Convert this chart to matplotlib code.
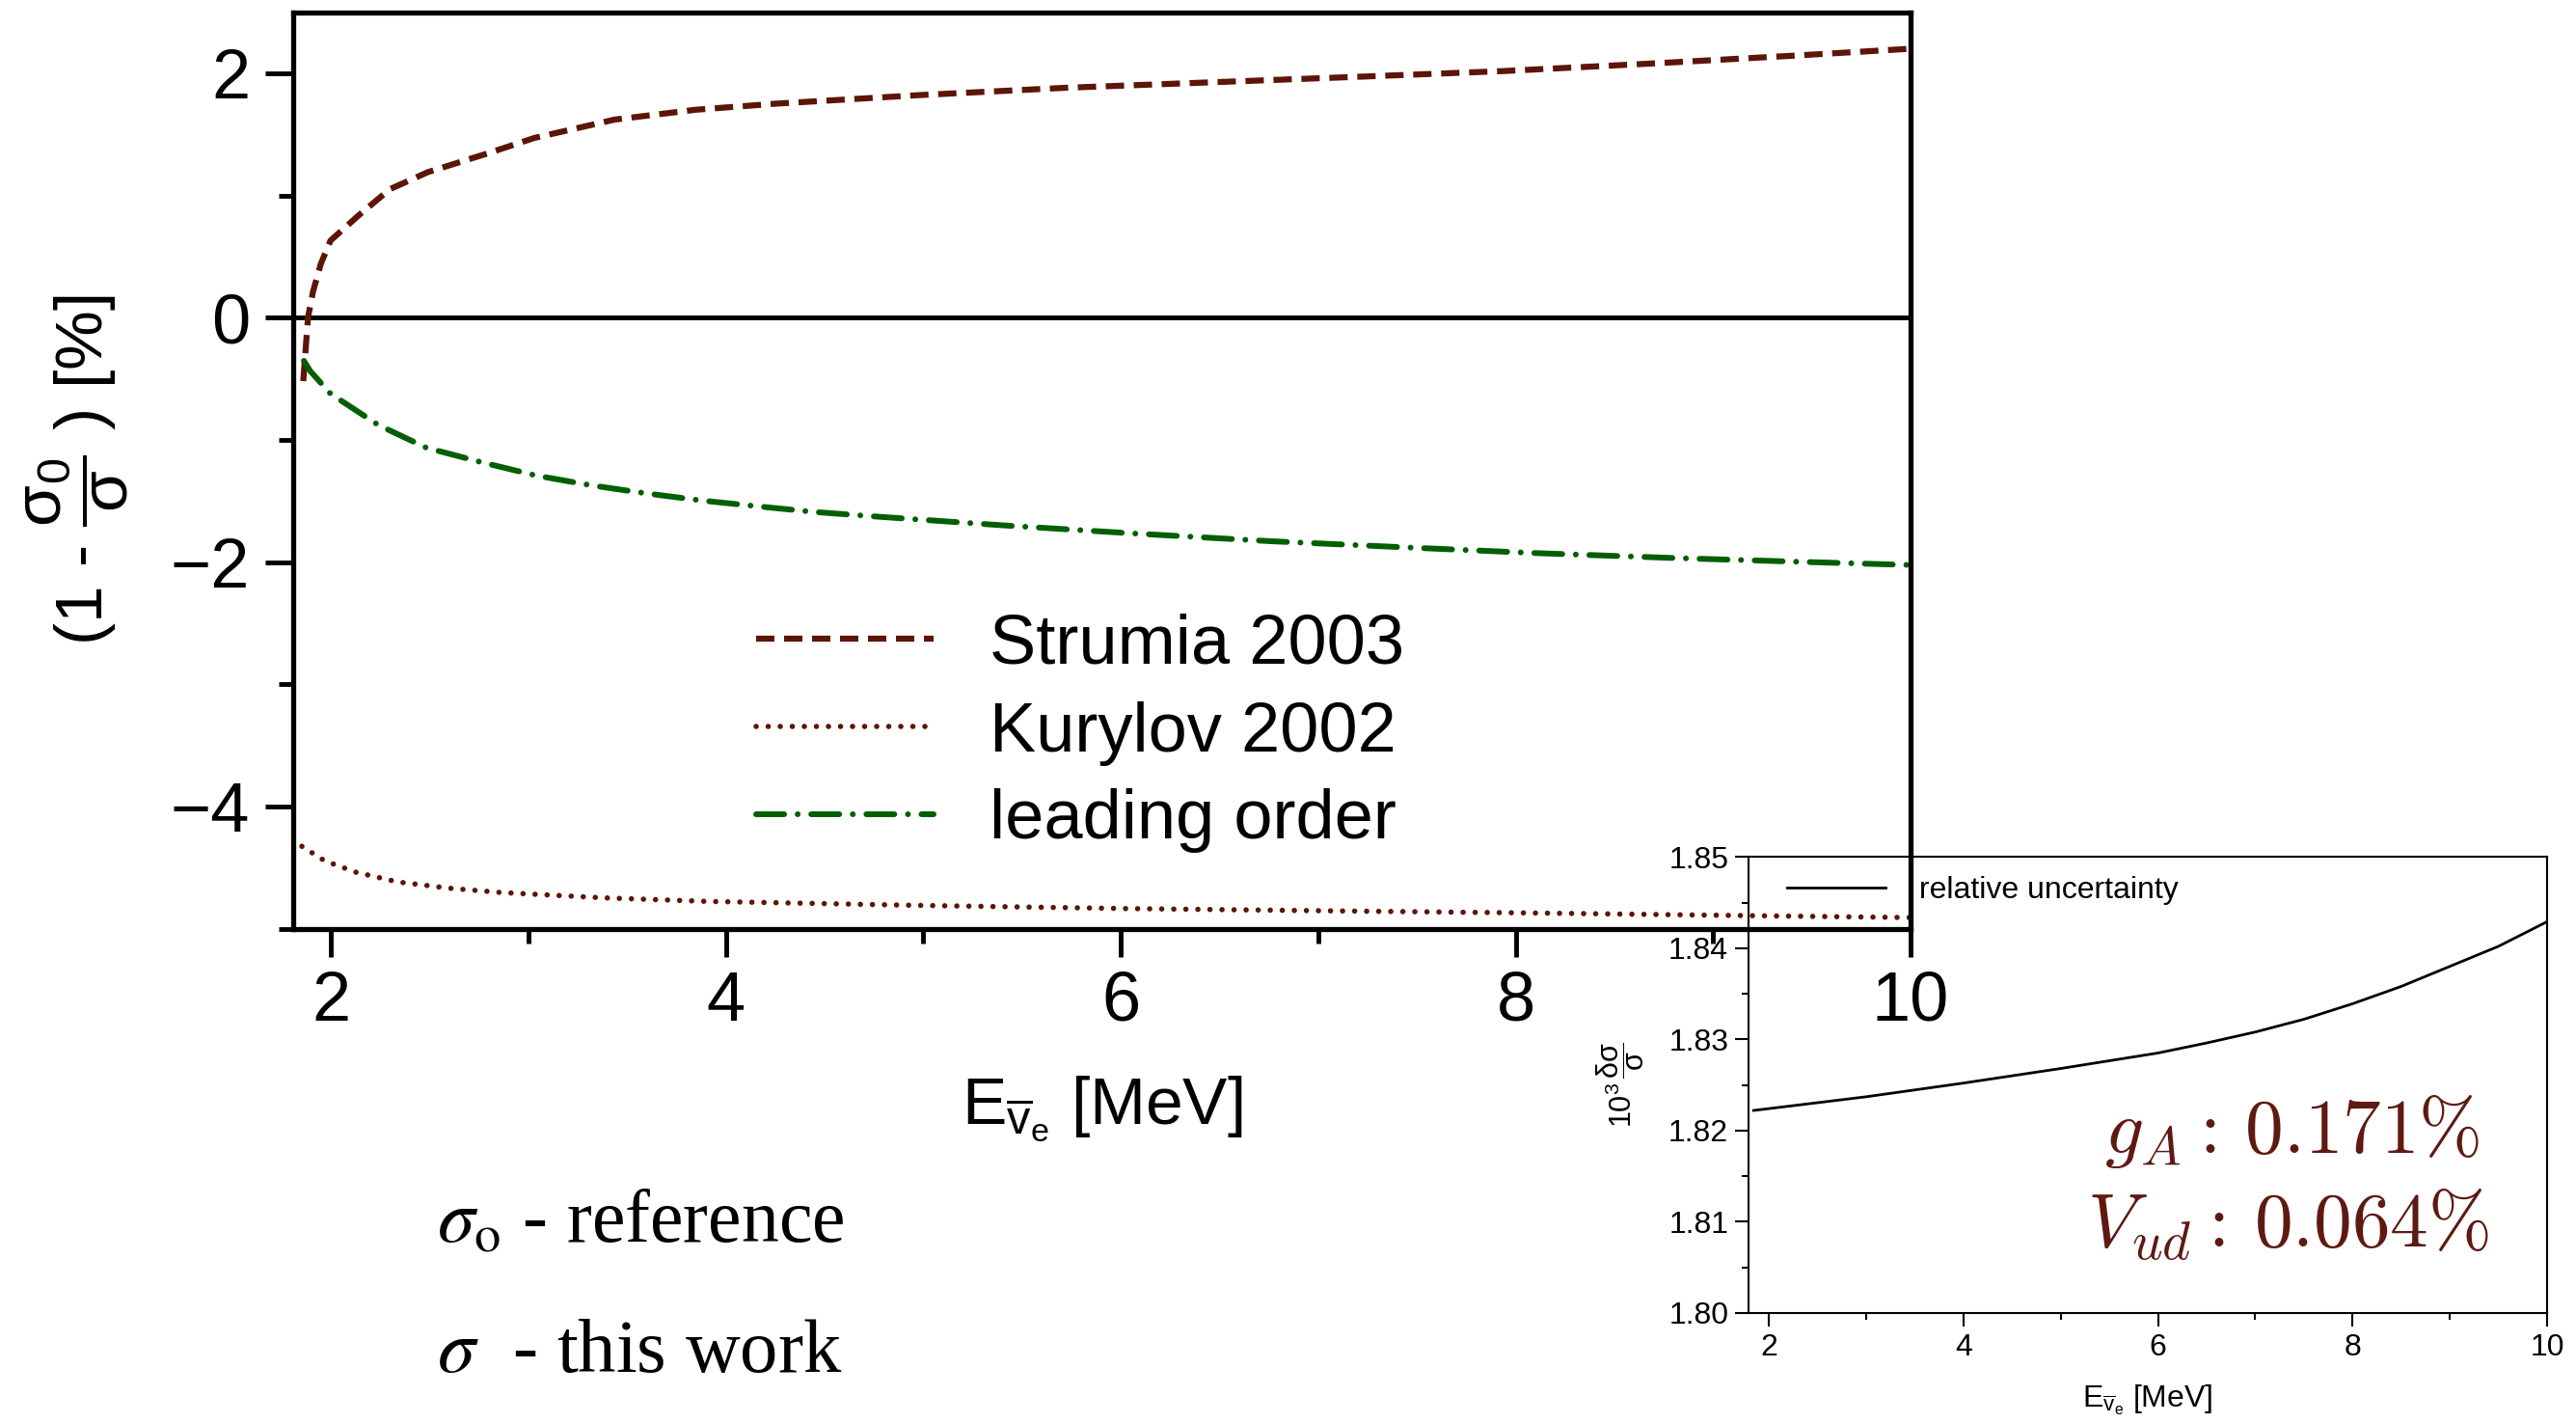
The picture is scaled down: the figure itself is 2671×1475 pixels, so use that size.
import matplotlib
matplotlib.use("Agg")
import matplotlib.pyplot as plt
from matplotlib.ticker import MultipleLocator, FormatStrFormatter

# fonts: Helvetica-like for axes, mathtext with the same font
plt.rcParams['font.family'] = ['Liberation Sans', 'DejaVu Sans']
plt.rcParams['mathtext.fontset'] = 'custom'
plt.rcParams['mathtext.rm'] = 'Liberation Sans'
plt.rcParams['mathtext.it'] = 'Liberation Sans:italic'
plt.rcParams['mathtext.bf'] = 'Liberation Sans:bold'

# Strumia 2003 (dashed)
x_strumia = [1.859, 1.883, 1.908, 1.948, 1.997, 2.135, 2.297, 2.49, 2.786, 3.03, 3.436,
             3.843, 4.25, 4.975, 5.715, 6.456, 7.196, 7.937, 8.677, 9.418, 10.0]
y_strumia = [-0.52, 0.0, 0.21, 0.44, 0.63, 0.83, 1.05, 1.19, 1.34, 1.47, 1.62,
             1.70, 1.75, 1.82, 1.88, 1.925, 1.97, 2.017, 2.078, 2.144, 2.20]

# Kurylov 2002 (dotted)
x_kurylov = [1.852, 1.968, 2.126, 2.336, 2.599, 2.862, 3.387, 3.913, 4.964, 6.015, 7.07,
             8.12, 9.17, 10.0]
y_kurylov = [-4.327, -4.446, -4.539, -4.618, -4.67, -4.705, -4.749, -4.778, -4.81, -4.836,
             -4.855, -4.873, -4.894, -4.91]

# leading order (dash-dot)
x_lo = [1.862, 1.894, 1.997, 2.24, 2.482, 2.762, 3.042, 3.322, 3.602, 3.882, 4.162, 4.442,
        4.722, 5.40, 6.078, 6.757, 7.434, 8.112, 8.79, 9.468, 10.0]
y_lo = [-0.354, -0.437, -0.623, -0.88, -1.065, -1.184, -1.294, -1.374, -1.44, -1.498, -1.545,
        -1.59, -1.624, -1.70, -1.768, -1.83, -1.88, -1.928, -1.967, -2.00, -2.025]

# inset: relative uncertainty
x_unc = [1.842, 2.0, 3.0, 4.0, 5.0, 6.0, 6.5, 7.0, 7.5, 8.0, 8.5, 9.0, 9.5, 10.0]
y_unc = [1.8222, 1.8224, 1.8237, 1.8252, 1.8268, 1.8285, 1.8296, 1.8308, 1.8322, 1.8339,
         1.8358, 1.8380, 1.8402, 1.8429]

brown = "#5c1506"
green = "#005f00"
text_brown = "#5e1a12"

W, H = 2671, 1475
fig = plt.figure(figsize=(W / 100, H / 100), dpi=100)

# inset axes first, main axes on top of it (transparent background)
ax2 = fig.add_axes([1813 / W, 1 - 1360.8 / H, (2641 - 1813) / W, (1360.8 - 888.3) / H])
ax = fig.add_axes([303.6 / W, 1 - 962.5 / H, (1981 - 303.6) / W, (962.5 - 12.5) / H])
ax.set_facecolor("none")
ax2.set_zorder(1)
ax.set_zorder(2)

# main plot
ax.axhline(0, color="black", lw=3.5, zorder=1.5)
ax.plot(x_strumia, y_strumia, color=brown, lw=4.5, dashes=(3.04, 1.6), label="Strumia 2003")
ax.plot(x_kurylov, y_kurylov, color=brown, lw=4, dashes=(0.01, 2.24),
        dash_capstyle="round", label="Kurylov 2002")
ax.plot(x_lo, y_lo, color=green, lw=4.3, dashes=(4.86, 2.35, 0.01, 2.35),
        dash_capstyle="round", label="leading order")

ax.set_xlim(1.806, 10)
ax.set_ylim(-5, 2.5)
ax.xaxis.set_major_locator(MultipleLocator(2))
ax.xaxis.set_minor_locator(MultipleLocator(1))
ax.yaxis.set_major_locator(MultipleLocator(2))
ax.yaxis.set_minor_locator(MultipleLocator(1))
for s in ax.spines.values():
    s.set_linewidth(3.8)
ax.tick_params(which="major", direction="out", length=21, width=3.5, labelsize=52)
ax.tick_params(which="minor", direction="out", length=11, width=3.5)
ax.tick_params(axis="x", which="major", pad=10)
ax.tick_params(axis="y", which="major", pad=11)

ax.set_xlabel(r"$\mathrm{E_{\overline{v}_e}}$ [MeV]", fontsize=50, va="baseline")
ax.xaxis.set_label_coords(0.5, (962.5 - 1165) / 950)
ax.set_ylabel(r"(1 - $\mathrm{\dfrac{σ_0}{σ}}$ ) [%]", fontsize=50, va="center")
ax.yaxis.set_label_coords((80 - 303.6) / 1677.4, 0.5)

ax.legend(loc="center left", bbox_to_anchor=(783.6 / W, 1 - 760 / H),
          bbox_transform=fig.transFigure, frameon=False, fontsize=52,
          handlelength=2.55, handletextpad=0.8, borderpad=0, borderaxespad=0,
          labelspacing=0.33)

# inset plot
ax2.plot(x_unc, y_unc, color="black", lw=2, label="relative uncertainty")
ax2.set_xlim(1.79, 10)
ax2.set_ylim(1.80, 1.85)
ax2.xaxis.set_major_locator(MultipleLocator(2))
ax2.xaxis.set_minor_locator(MultipleLocator(1))
ax2.yaxis.set_major_locator(MultipleLocator(0.01))
ax2.yaxis.set_minor_locator(MultipleLocator(0.005))
ax2.yaxis.set_major_formatter(FormatStrFormatter("%.2f"))
for s in ax2.spines.values():
    s.set_linewidth(1.5)
ax2.tick_params(which="major", direction="out", length=10, width=1.5, labelsize=23, pad=5)
ax2.tick_params(which="minor", direction="out", length=5, width=1.5)
ax2.set_xlabel(r"$\mathrm{E_{\overline{v}_e}}$ [MeV]", fontsize=23, va="baseline")
ax2.xaxis.set_label_coords(0.5, (1360.8 - 1458) / 472.5)
ax2.set_ylabel(r"$\mathrm{10^3\,\dfrac{δσ}{σ}}$", fontsize=22, va="center")
ax2.yaxis.set_label_coords((1680 - 1813) / 828, 0.5)
ax2.legend(loc="center left", bbox_to_anchor=(1852.8 / W, 1 - 922.7 / H),
           bbox_transform=fig.transFigure, frameon=False, fontsize=23,
           handlelength=3.2, handletextpad=1.1, borderpad=0, borderaxespad=0)

# parameter uncertainties
fig.text(2182 / W, 1 - 1195 / H, r"$g_A : \,0.171\%$", fontsize=57, color=text_brown,
         math_fontfamily="cm", va="baseline", zorder=5)
fig.text(2164 / W, 1 - 1293 / H, r"$V_{ud} : \,0.064\%$", fontsize=57, color=text_brown,
         math_fontfamily="cm", va="baseline", zorder=5)

# notes bottom left
fig.text(453 / W, 1 - 1286.7 / H, r"$\sigma_{\mathrm{o}}$ - reference", fontsize=56,
         family="Liberation Serif", math_fontfamily="stix", va="baseline")
fig.text(453 / W, 1 - 1421.7 / H, r"$\sigma$  - this work", fontsize=56.5,
         family="Liberation Serif", math_fontfamily="stix", va="baseline")

fig.savefig("out.png", dpi=100)
